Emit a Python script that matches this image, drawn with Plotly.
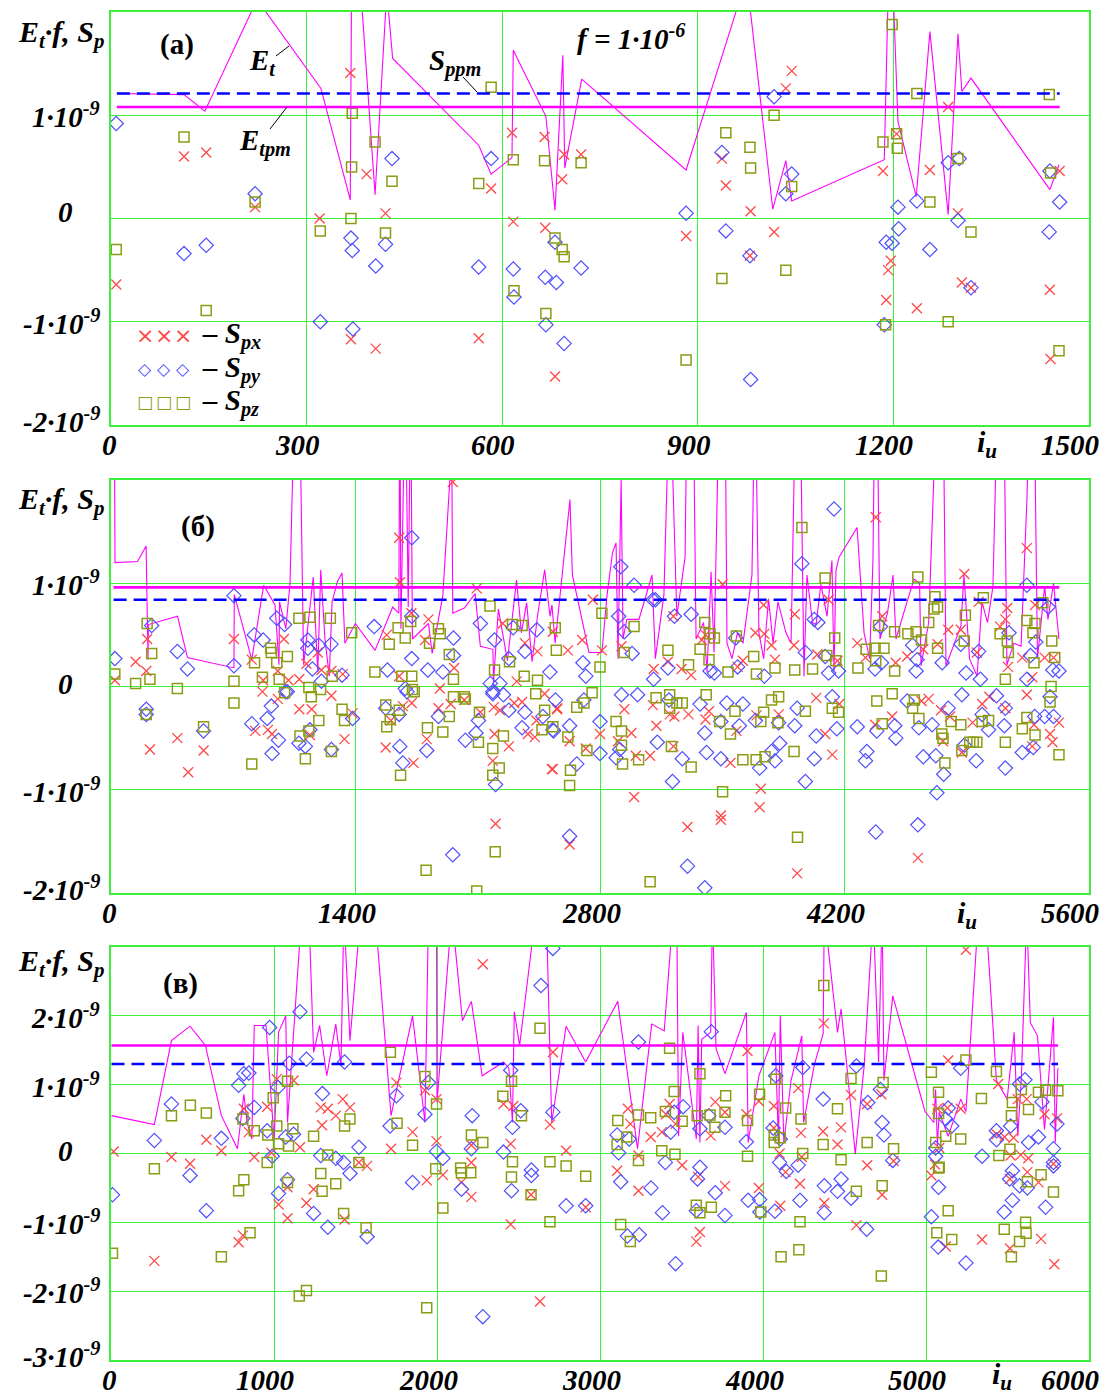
import numpy as np
import plotly.graph_objects as go

# ---------------- DATA (all S / E values in units of 1e-9) ----------------
SCALE = 1e-9

# ---- panel (а) ----
ET_A_I = [9, 112, 144, 224, 322, 367, 370, 405, 423, 432, 564, 583, 615, 617, 667, 681, 693, 696, 722, 882,
          975, 1015, 1035, 1044, 1186, 1195, 1207, 1235, 1256, 1284, 1299, 1305, 1319, 1440, 1454]
ET_A_V = [1.21, 1.20, 1.04, 2.12, 1.26, 0.18, 3.4, 0.23, 2.2, 1.55, 0.71, 0.43, 0.59, 1.63, 0.99, 0.08, 1.58, 0.49, 1.35, 0.47,
          2.33, 0.09, 0.56, 0.17, 0.57, 3.0, 0.94, 0.21, 1.81, 0.04, 1.79, 1.23, 1.36, 0.28, 0.52]

SPX_A_I = [8, 112, 146, 221, 320, 367, 368, 392, 406, 421, 564, 583, 615, 617, 665, 666, 681, 692, 695, 721, 882, 937, 943,
           980, 981, 1017, 1035, 1044, 1184, 1189, 1192, 1196, 1205, 1236, 1256, 1284, 1299, 1305, 1319, 1440, 1441, 1455]
SPX_A_V = [-0.64, 0.60, 0.64, 0.11, 0.0, 1.41, -1.17, 0.43, -1.26, 0.05, -1.16, 0.29, 0.83, -0.03, 0.79, -0.09, -1.53, 0.38,
           0.62, 0.62, -0.17, 0.58, 0.32, -0.36, 0.07, -0.13, 1.26, 1.43, 0.46, -0.79, -0.50, -0.41, 0.82, -0.87, 0.47, 1.08,
           0.05, -0.62, -0.67, -0.69, -1.36, 0.46]

SPY_A_I = [8, 112, 146, 221, 321, 368, 370, 371, 406, 421, 431, 564, 583, 617, 618, 666, 667, 681, 683, 695, 721, 882, 937,
           943, 980, 981, 1017, 1035, 1044, 1186, 1189, 1198, 1207, 1208, 1236, 1256, 1284, 1299, 1301, 1319, 1439, 1440, 1455]
SPY_A_V = [0.92, -0.34, -0.26, 0.24, -1.0, -0.19, -0.31, -1.07, -0.46, -0.25, 0.58, -0.47, 0.58, -0.49, -0.76, -0.57, -1.03,
           -0.23, -0.62, -1.21, -0.48, 0.05, 0.64, -0.12, -0.36, -1.56, 1.18, 0.24, 0.43, -1.03, -0.23, -0.24, 0.11, -0.10,
           0.17, -0.30, 0.54, -0.02, 0.58, -0.67, -0.13, 0.46, 0.16]

SPZ_A_I = [8, 112, 146, 221, 321, 368, 369, 370, 405, 421, 431, 564, 583, 617, 618, 665, 667, 681, 692, 695, 721, 882, 937,
           943, 980, 981, 1017, 1035, 1044, 1184, 1188, 1198, 1205, 1206, 1236, 1256, 1284, 1299, 1319, 1439, 1441, 1454]
SPZ_A_V = [-0.30, 0.79, -0.89, 0.16, -0.12, 0.0, 0.50, 1.02, 0.74, -0.14, 0.36, 0.34, 1.27, 0.57, -0.70, 0.56, -0.92, -0.19,
           -0.30, -0.37, 0.54, -1.37, -0.58, 0.83, 0.69, 0.49, 1.00, -0.50, 0.31, 0.74, -1.03, 1.88, 0.82, 0.68, 1.21, 0.16,
           -1.0, 0.58, -0.13, 1.20, 0.44, -1.28]

ETPM_A, SPPM_A, SPAN_A = 1.08, 1.21, [9, 1455]

# ---- panel (б) ----
ET_B = [(18, 3.0), (23, 1.20), (152, 1.21), (201, 1.36), (212, 0.26), (214, 0.60), (381, 0.68), (438, 0.28), (704, 0.18),
        (706, 0.89), (806, 0.26), (874, 0.98), (939, 0.79), (962, 0.21), (965, 0.82), (1001, 0.56), (1025, 1.0), (1054, 3.0),
        (1078, 3.0), (1103, 0.21), (1158, 1.06), (1184, 0.14), (1201, 1.13), (1225, 0.46), (1250, 0.10), (1266, 0.82),
        (1297, 1.02), (1323, 1.10), (1339, 0.42), (1399, 0.61), (1512, 0.35), (1613, 0.77), (1648, 0.71), (1654, 3.0),
        (1660, 0.56), (1685, 3.0), (1702, 0.77), (1716, 3.0), (1726, 0.46), (1818, 0.61), (1839, 0.32), (1900, 0.88),
        (1951, 2.3), (1957, 0.71), (2023, 0.76), (2085, 0.90), (2115, 0.39), (2187, 0.36), (2190, 0.04), (2218, 0.75),
        (2270, 0.25), (2322, 1.03), (2350, 0.52), (2380, 0.81), (2411, 0.24), (2442, 0.68), (2483, 1.13), (2514, 0.68),
        (2525, 0.79), (2543, 0.42), (2628, 1.81), (2642, 1.08), (2737, 0.33), (2811, 0.33), (2840, 0.88), (2872, 1.30),
        (2892, 1.39), (2903, 0.27), (2921, 2.0), (2932, 0.46), (2954, 0.65), (3023, 0.65), (3098, 1.08), (3117, 0.27),
        (3166, 0.89), (3200, 3.0), (3240, 0.68), (3287, 1.25), (3300, 3.0), (3333, 3.0), (3350, 0.46), (3393, 0.62),
        (3413, 0.14), (3436, 1.11), (3453, 0.33), (3485, 3.0), (3516, 3.0), (3527, 0.42), (3556, 0.27), (3587, 0.52),
        (3619, 0.42), (3670, 1.08), (3688, 3.0), (3710, 0.52), (3737, 0.27), (3765, 0.85), (3791, 0.42), (3819, 0.82),
        (3865, 0.52), (3894, 0.42), (3922, 3.0), (3945, 3.0), (3968, 0.10), (3985, 1.08), (4017, 0.62), (4037, 0.60),
        (4065, 0.99), (4100, 0.68), (4128, 1.22), (4140, 0.15), (4151, 1.12), (4168, 1.25), (4272, 1.54), (4312, 0.52),
        (4344, 0.27), (4363, 1.22), (4375, 3.0), (4386, 3.0), (4403, 0.46), (4446, 0.71), (4478, 1.08), (4495, 0.46),
        (4558, 0.82), (4598, 1.04), (4630, 1.0), (4638, 0.20), (4682, 0.62), (4732, 3.0), (4764, 3.0), (4781, 0.20),
        (4867, 0.59), (4884, 1.08), (4916, 0.27), (4959, 0.10), (4987, 0.82), (5019, 0.62), (5050, 0.97), (5079, 3.0),
        (5111, 3.0), (5130, 0.21), (5170, 0.42), (5211, 0.39), (5245, 1.83), (5262, 3.0), (5285, 3.0), (5305, 0.27),
        (5346, 0.97), (5365, 0.65), (5397, 1.0), (5417, 0.65), (5428, 0.46)]

SPX_B = [(207, 0.46), (141, 0.24), (202, 0.15), (22, 0.06), (704, 0.46), (806, 0.26), (990, 0.46), (871, 0.06), (955, 0.15),
         (1016, 0.06), (1078, 0.07), (1119, 0.22), (1184, 0.33), (1205, 0.16), (1262, 0.15), (1262, -0.09), (1327, 0.12),
         (1650, 1.44), (1654, 1.01), (1720, 0.71), (1579, 0.50), (1650, 0.10), (1818, 0.65), (1798, 0.45), (1883, -0.02),
         (1957, 1.98), (1965, 0.18), (2094, 0.95), (2243, 0.61), (2370, 0.42), (2442, 0.34), (2323, 0.05), (2530, 0.53),
         (867, -0.05), (955, -0.12), (1078, -0.22), (1149, -0.22), (380, -0.50), (223, -0.61), (530, -0.62), (442, -0.83),
         (826, -0.43), (898, -0.42), (922, -0.46), (1139, -0.47), (1337, -0.51), (1383, -0.26), (1603, -0.33),
         (1671, -0.19), (1722, -0.16), (1573, -0.59), (1732, -0.74), (1808, -0.51), (1875, -0.21), (1945, -0.17),
         (2023, -0.13), (2115, -0.25), (2196, -0.46), (2186, -0.72), (2202, -1.33), (2192, -0.20), (2227, -0.23),
         (2278, -0.58), (2309, -0.16), (2354, -0.15), (2387, -0.46), (2427, -0.49), (2436, -0.33), (2483, -0.07),
         (2530, -0.80), (2554, -0.22),
         (2759, 0.84), (2698, 0.45), (2616, 0.35), (2811, 0.35), (2923, 0.39), (3107, 0.17), (3189, 0.24), (3220, 0.68),
         (3267, 0.17), (3322, 0.11), (3383, 0.45), (3404, 0.50), (3502, 0.99), (3588, 0.19), (3618, 0.25), (3690, 0.52),
         (3737, 0.79), (3741, 0.51), (3782, 0.40), (3802, 0.26), (3915, 0.70), (3911, 0.40), (4044, 0.31), (4109, 0.84),
         (4160, 0.25), (4379, 1.64), (4273, 0.42), (4320, 0.28), (4416, 0.68), (4493, 0.23), (4559, 0.29), (4651, 0.36),
         (4733, 0.41), (4794, 0.55), (4866, 0.55), (4886, 1.09), (4958, 0.33), (4968, 0.82), (5091, 0.58), (5121, 0.65),
         (5132, 0.76), (5136, 0.19), (5244, 1.34), (5291, 0.79), (5218, 0.28), (5346, 0.28), (5397, 0.28), (5275, 0.09),
         (2555, -0.21), (2524, -0.80), (2719, -0.60), (2800, -0.46), (2626, -0.53), (2626, -1.53), (2903, -0.53),
         (2939, -0.22), (2980, -0.45), (3005, -0.67), (2995, -1.07), (3087, -0.67), (3123, -0.38), (3103, -0.18),
         (3199, -0.27), (3226, -0.29), (3307, -0.27), (3301, -1.36), (3220, -0.58), (3404, -0.32), (3424, -0.24),
         (3492, -1.25), (3492, -1.29), (3547, -0.74), (3581, -0.43), (3696, -0.28), (3721, -0.99), (3714, -1.17),
         (3823, -0.27), (3929, -1.81), (4038, -0.11), (4089, -0.46), (4130, -0.66), (4170, -0.17), (4375, -0.37),
         (4473, -0.29), (4620, -1.66), (4641, -0.14), (4682, -0.12), (4753, -0.23), (4764, -0.53), (4804, -0.29),
         (4872, -0.64), (4933, -0.35), (4988, -0.17), (5029, -0.10), (5121, -0.21), (5244, -0.08), (5285, -0.37),
         (5377, -0.46), (5391, -0.54), (5428, -0.35), (5275, -0.58)]

SPY_B = [(22, 0.27), (233, 0.59), (380, 0.34), (438, 0.17), (704, 0.88), (704, 0.20), (820, 0.50), (871, 0.45), (949, 0.66),
         (994, 0.60), (1127, 0.45), (1127, 0.37), (1190, 0.40), (1260, 0.41), (1153, 0.17), (1205, 0.05), (1323, 0.11),
         (1010, -0.05), (1507, 0.58), (1583, 0.16), (1722, 1.44), (1722, 0.68), (1722, 0.27), (1814, 0.16), (1900, 0.14),
         (1961, 0.47), (1961, 0.30), (2115, 0.61), (2196, 0.45), (2278, 0.27), (2303, 0.57), (2370, 0.34), (2438, 0.55),
         (2513, 0.14), (2172, 0.03), (2227, 0.03), (2186, -0.05), (1685, -0.02),
         (202, -0.22), (202, -0.27), (530, -0.43), (806, -0.36), (894, -0.31), (918, -0.19), (959, -0.52), (922, -0.65),
         (1076, -0.55), (1113, -0.58), (1139, -0.42), (1262, -0.61), (1383, -0.31), (1000, -0.05), (1573, -0.21),
         (1650, -0.27), (1654, -0.58), (1671, -0.74), (1695, -0.05), (1808, -0.62), (1875, -0.29), (1957, -1.63),
         (2029, -0.52), (2104, -0.33), (2090, -0.45), (2202, -0.95), (2186, -0.07), (2247, -0.08), (2278, -0.23),
         (2354, -0.40), (2370, -0.25), (2534, -0.43), (2473, -0.29),
         (2919, 1.16), (2995, 0.98), (2907, 0.68), (2939, 0.53), (2984, 0.32), (2702, 0.23), (2719, 0.10), (3103, 0.84),
         (3117, 0.84), (3226, 0.68), (3322, 0.70), (3189, 0.18), (3107, 0.07), (3430, 0.15), (3455, 0.13), (3577, 0.47),
         (3588, 0.19), (3956, 1.19), (4140, 1.72), (4027, 0.65), (4048, 0.62), (3976, 0.33), (4089, 0.29), (4109, 0.13),
         (4166, 0.15), (3741, 0.10), (4406, 0.58), (4375, 0.17), (4412, 0.23), (4590, 0.40), (4616, 0.26), (4610, 0.15),
         (4759, 0.23), (4866, 0.41), (4896, 0.13), (4968, 0.34), (4978, 0.07), (5142, 0.52), (5244, 0.98), (5295, 0.43),
         (5265, 0.30), (5244, 0.07), (5367, 0.77), (5393, 0.16), (5428, 0.15),
         (2545, -0.13), (2626, -0.38), (2530, -0.42), (2667, -0.75), (2626, -1.45), (2800, -0.34), (2800, -0.65),
         (2708, -0.13), (2892, -0.69), (2913, -0.61), (2923, -0.08), (3015, -0.08), (3128, -0.54), (3215, -0.92),
         (3195, -0.13), (3271, -0.70), (3301, -1.74), (3373, -0.17), (3400, -0.45), (3410, -0.64), (3400, -1.95),
         (3492, -0.70), (3492, -0.34), (3526, -0.16), (3618, -0.17), (3598, -0.38), (3690, -0.33), (3714, -0.79),
         (3782, -0.63), (3802, -0.72), (3829, -0.55), (3823, -0.35), (3915, -0.38), (3929, -0.21), (3976, -0.92),
         (4027, -0.70), (4038, -0.48), (4130, -0.10), (4156, -0.41), (4273, -0.39), (4328, -0.63), (4320, -0.72),
         (4379, -1.41), (4385, -0.43), (4494, -0.50), (4488, -0.38), (4559, -0.14), (4626, -0.40), (4620, -1.34),
         (4651, -0.68), (4702, -0.37), (4729, -1.03), (4768, -0.85), (4723, -0.67), (4794, -0.21), (4872, -0.08),
         (4886, -0.57), (4954, -0.72), (4988, -0.27), (5025, -0.42), (5070, -0.09), (5121, -0.79), (5115, -0.38),
         (5121, -0.21), (5218, -0.64), (5281, -0.59), (5289, -0.29), (5346, -0.29), (5397, -0.29), (5377, -0.10)]

SPZ_B = [(22, 0.12), (207, 0.61), (233, 0.32), (141, 0.03), (223, 0.07), (380, -0.02), (704, 0.05), (822, 0.23), (867, 0.09),
         (914, 0.37), (918, 0.33), (963, 0.07), (1010, 0.29), (949, 0.23), (1076, 0.66), (1139, 0.67), (1256, 0.66),
         (1378, 0.52), (1133, -0.01), (1200, -0.03), (1266, 0.10), (1511, 0.14), (1685, 0.47), (1644, 0.57), (1593, 0.41),
         (1665, 0.10), (1722, 0.10), (1726, -0.03), (1716, 0.63), (1875, 0.56), (1885, 0.51), (1824, 0.42), (1937, 0.31),
         (1961, 0.07), (2170, 0.78), (2299, 0.60), (2354, 0.59), (2196, 0.16), (2282, 0.24), (2366, 0.10), (2442, 0.06),
         (2544, 0.57), (2550, 0.35), (1961, -0.10), (2023, -0.10),
         (202, -0.27), (530, -0.39), (704, -0.16), (806, -0.75), (994, -0.06), (1147, -0.10), (1190, -0.33), (1082, -0.48),
         (1133, -0.43), (1113, -0.70), (1262, -0.63), (1323, -0.22), (1337, -0.33), (1573, -0.18), (1579, -0.39),
         (1599, -0.32), (1650, -0.23), (1658, -0.86), (1736, -0.05), (1812, -0.40), (1900, -0.44), (1804, -1.78),
         (1937, -0.29), (2029, -0.12), (2094, -1.98), (2104, -0.54), (2110, -0.25), (2186, -0.60), (2223, -0.79),
         (2186, -0.86), (2200, -1.60), (2247, -0.48), (2432, -0.07), (2468, -0.42), (2483, -0.23), (2530, -0.39),
         (3956, 1.54), (4089, 1.05), (4620, 1.06), (2811, 0.71), (2995, 0.58), (2800, 0.19), (2939, 0.33), (3189, 0.35),
         (3307, 0.21), (3400, 0.62), (3430, 0.51), (3455, 0.47), (3373, 0.36), (3424, 0.26), (3581, 0.49), (3533, 0.14),
         (3680, 0.29), (3696, 0.12), (3802, 0.18), (3915, 0.16), (4017, 0.17), (4144, 0.47), (4099, 0.30), (4150, 0.25),
         (4277, 0.18), (4324, 0.36), (4375, 0.37), (4426, 0.37), (4379, 0.25), (4395, 0.59), (4487, 0.53), (4563, 0.51),
         (4610, 0.53), (4641, 0.45), (4718, 0.87), (4712, 0.75), (4733, 0.77), (4682, 0.62), (4733, 0.37), (4892, 0.69),
         (4886, 0.44), (4995, 0.86), (5091, 0.51), (5132, 0.44), (5138, 0.33), (5244, 0.64), (5291, 0.61), (5279, 0.52),
         (5387, 0.44), (5336, 0.81), (5404, 0.28), (5285, 0.23), (5121, 0.07), (5383, 0.00), (4487, 0.15),
         (2667, -0.20), (2708, -0.16), (2755, -0.06), (2616, -0.49), (2631, -0.81), (2626, -0.96), (2725, -0.62),
         (2892, -0.34), (2923, -0.43), (2923, -0.57), (2929, -0.75), (3021, -0.71), (3087, -1.89), (3121, -0.11),
         (3199, -0.08), (3199, -0.21), (3209, -0.58), (3240, -0.16), (3271, -0.16), (3322, -0.78), (3408, -0.08),
         (3485, -0.34), (3502, -1.02), (3547, -0.46), (3573, -0.24), (3618, -0.71), (3694, -0.71), (3737, -0.25),
         (3745, -0.68), (3721, -0.34), (3782, -0.13), (3823, -0.10), (3819, -0.35), (3911, -0.63), (3931, -1.46),
         (3976, -0.24), (4130, -0.21), (4166, -0.25), (4385, -0.14), (4416, -0.36), (4473, -0.07), (4600, -0.13),
         (4590, -0.21), (4626, -0.31), (4757, -0.46), (4764, -0.50), (4775, -0.74), (4811, -0.34), (4866, -0.37),
         (4872, -0.62), (4917, -0.54), (4937, -0.54), (4958, -0.54), (4988, -0.34), (5025, -0.33), (5121, -0.54),
         (5218, -0.41), (5244, -0.30), (5291, -0.47), (5377, -0.15), (5428, -0.66)]

ETPM_B, SPPM_B, SPAN_B = 0.96, 0.84, [15, 5430]

# ---- panel (в) ----
ET_C = [(3, 0.55), (266, 0.42), (371, 1.64), (485, 1.85), (579, 1.57), (677, 0.55), (776, 0.07), (815, 0.86), (835, 0.45),
        (864, 0.21), (879, 1.86), (951, 1.86), (1001, 0.19), (1028, 1.76), (1072, 2.0), (1083, 0.45), (1170, 3.5),
        (1214, 3.5), (1243, 1.47), (1280, 1.86), (1324, 1.13), (1379, 1.88), (1411, 1.28), (1429, 3.5), (1466, 1.64),
        (1532, 3.5), (1620, 3.5), (1718, 0.55), (1850, 2.0), (1926, 0.45), (1948, 3.5), (1997, 3.5), (2000, 0.74),
        (2091, 3.5), (2156, 1.93), (2211, 2.21), (2277, 1.13), (2408, 1.33), (2441, 1.24), (2463, 0.45), (2474, 2.06),
        (2507, 1.57), (2606, 3.5), (2671, 3.5), (2704, 0.45), (2792, 1.85), (2912, 1.33), (3109, 2.21), (3230, 0.07),
        (3317, 1.88), (3394, 1.78), (3449, 3.5), (3471, 3.5), (3482, 0.25), (3508, 1.76), (3591, 0.21), (3602, 1.86),
        (3613, 0.16), (3624, 1.66), (3679, 1.76), (3690, 3.5), (3712, 1.52), (3767, 1.16), (3898, 2.05), (3909, 0.16),
        (3975, 1.13), (4073, 1.76), (4095, 0.16), (4106, 2.0), (4128, 0.16), (4172, 1.06), (4238, 1.71), (4249, 0.45),
        (4314, 1.28), (4369, 1.74), (4376, 3.5), (4457, 1.76), (4479, 2.1), (4512, 1.33), (4566, -0.01), (4621, 1.28),
        (4676, 3.5), (4709, 1.33), (4731, 3.5), (4742, 1.06), (4796, 2.29), (4994, 0.61), (5048, 0.45), (5059, 0.93),
        (5070, 0.11), (5081, 0.60), (5136, 0.25), (5213, 0.79), (5245, 0.61), (5322, 3.5), (5366, 3.5), (5432, 1.06),
        (5498, 0.79), (5541, 1.76), (5563, 0.25), (5585, 1.09), (5618, 3.5), (5640, 1.90), (5684, 1.71), (5727, 0.35),
        (5782, 1.98), (5793, 0.16), (5809, 1.24)]

SPX_C = [(16, 0.03), (371, -0.05), (485, -0.15), (585, 0.20), (677, 0.04), (815, 0.65), (846, 0.31), (879, -0.05), (958, 0.68),
         (984, 0.01), (1017, 1.08), (1120, 1.06), (1159, 0.09), (1287, 0.67), (1330, 0.65), (1379, 0.55), (1422, 0.79),
         (1466, 0.67), (1295, 0.41), (1521, -0.13), (1571, -0.18), (1718, 0.07), (1751, 1.03), (1850, 0.31), (1926, 0.92),
         (1997, 0.79), (1997, 0.18), (2211, 0.12), (2211, -0.13), (2452, 0.14), (2408, 0.72), (2468, 0.69), (2693, 0.42),
         (2711, 1.47), (2281, 2.75),
         (2792, 0.04), (3171, 0.65), (3186, 0.43), (3236, -0.03), (3311, 0.24), (3379, 0.31), (3405, 0.57), (3427, 0.72),
         (3464, 0.43), (3504, -0.17), (3679, 0.26), (3707, 0.75), (3767, 0.60), (3905, 1.49), (3898, 0.57), (3975, 0.76),
         (4067, 0.69), (4067, 0.37), (4102, 0.0), (4216, 0.95), (4233, 0.30), (4238, -0.05), (4373, 1.89), (4369, 0.32),
         (4479, 0.38), (4457, 0.13), (4540, 0.85), (4639, 0.72), (4639, -0.17), (4726, 0.86), (4801, -0.11), (5136, 1.35),
         (5070, 0.65), (5132, 0.66), (5213, 0.65), (5081, 0.08), (5055, -0.16), (5245, 2.96), (5443, 1.01), (5563, 0.79),
         (5618, 0.79), (5727, 0.57), (5804, 0.51), (5482, 0.24), (5537, 0.23), (5519, -0.03), (5581, -0.02), (5628, -0.07),
         (5432, 0.28), (5782, -0.15),
         (266, -1.56), (783, -1.29), (809, -1.19), (1028, -0.74), (1083, -0.49), (1083, -0.94), (1199, -0.72), (1243, -0.52),
         (1433, -0.96), (1937, -0.39), (2036, -0.31), (2150, -0.42), (2211, -0.63), (2452, -1.03), (2577, -0.60),
         (2632, -2.15),
         (2912, -0.78), (3105, -0.25), (3236, -0.54), (3602, -0.34), (3591, -1.28), (3613, -1.14), (3767, -0.47),
         (3975, -0.50), (4106, -0.76), (4139, -0.27), (4227, -0.44), (4376, -0.72), (4573, -1.04), (4731, -0.60),
         (5033, -0.32), (5121, -1.35), (5344, -1.25), (5515, -0.37), (5515, -1.38), (5622, -0.27), (5690, -0.42),
         (5706, -1.24), (5787, -1.61)]

SPY_C = [(266, 0.19), (371, 0.72), (677, 0.22), (783, 0.99), (815, 1.16), (846, 1.17), (879, 0.67), (809, 0.51), (958, 0.33),
         (973, 1.83), (1024, 0.96), (989, -0.04), (1072, 0.24), (1094, 1.31), (1120, 0.28), (1159, 2.06), (1199, 1.37),
         (1297, 0.87), (1287, -0.03), (1433, 1.33), (1379, -0.07), (1427, -0.13), (1521, 0.09), (1712, 0.40), (1751, 0.84),
         (1926, 0.57), (1948, 1.03), (1997, 0.03), (2036, -0.07), (2216, 0.55), (2211, 0.07), (2408, 0.02), (2452, 1.21),
         (2463, 0.38), (2514, 0.62), (2638, 2.44), (2711, 0.60), (2579, -0.24), (2711, 2.98),
         (3236, 1.62), (3683, 1.77), (3510, 0.68), (3455, 0.60), (3434, 0.31), (3613, 0.36), (3767, 0.38), (3668, 0.55),
         (3898, 0.17), (4078, 1.13), (4062, 0.37), (4106, 0.21), (4244, 1.25), (4369, 0.79), (4573, 1.27), (4643, 0.74),
         (4731, 0.45), (4742, 0.27), (4720, 0.93), (3105, 0.27), (3114, 0.01), (3179, 0.21), (3401, -0.13), (3613, -0.20),
         (4102, -0.13), (4216, -0.17), (4796, -0.10), (5136, 0.66), (5121, 0.50), (5158, 0.40), (5213, 1.24), (5059, 0.08),
         (5059, -0.04), (5344, -0.04), (5432, 0.33), (5432, 0.20), (5519, 0.40), (5607, 1.07), (5574, 1.01), (5629, 0.16),
         (5690, 0.24), (5712, 0.75), (5804, 0.43), (5782, 0.07), (5782, -0.13), (5530, -0.25),
         (9, -0.60), (485, -0.32), (585, -0.83), (1028, -0.58), (1083, -0.38), (1243, -0.87), (1330, -1.07), (1466, -0.29),
         (1571, -1.21), (1850, -0.42), (2150, -0.52), (2281, -2.37), (2457, -0.54), (2579, -0.32),
         (2792, -0.76), (2912, -0.76), (3127, -0.41), (3168, -1.20), (3241, -1.18), (3313, -0.50), (3383, -0.86),
         (3464, -1.60), (3591, -0.83), (3598, -0.37), (3707, -0.57), (3767, -0.90), (3909, -0.68), (3979, -0.67),
         (3981, -0.85), (4073, -0.84), (4143, -0.26), (4227, -0.68), (4376, -0.47), (4376, -0.86), (4457, -0.55),
         (4479, -0.37), (4540, -0.65), (4636, -1.10), (5033, -0.92), (5077, -0.49), (5075, -1.36), (5245, -1.59),
         (5480, -0.85), (5530, -0.68), (5513, -0.37), (5574, -0.47), (5622, -0.50), (5734, -0.78), (5782, -0.18)]

SPZ_C = [(266, -0.22), (371, 0.55), (487, 0.70), (585, 0.59), (809, 0.50), (879, 0.33), (962, 0.27), (995, 0.81), (958, -0.13),
         (1017, 0.40), (1083, 1.05), (1028, 0.14), (1089, 0.11), (1116, 0.36), (1243, 0.25), (1330, -0.02), (1433, 0.40),
         (1466, 0.50), (1521, -0.13), (1714, 1.47), (1755, 0.44), (1850, 0.12), (1926, 1.12), (1997, 0.72), (1992, -0.22),
         (2211, 0.27), (2281, 0.16), (2145, -0.21), (2404, 0.83), (2457, 1.05), (2518, 0.55), (2463, -0.12), (2632, 1.82),
         (2693, -0.12),
         (3427, 1.53), (3455, 0.90), (3613, 1.16), (3771, 0.84), (3767, 0.60), (3705, 0.38), (3675, 0.56), (3596, 0.55),
         (3504, 0.47), (3401, 0.61), (3311, 0.52), (3236, 0.56), (3109, 0.48), (3164, 0.24), (3105, 0.13), (3236, -0.10),
         (3379, 0.04), (3460, -0.01), (3905, 0.48), (3905, -0.04), (3979, 0.86), (4078, 1.08), (4139, 0.66), (4069, 0.27),
         (4069, 0.16), (4106, 0.23), (4233, 0.50), (4244, 0.0), (4373, 2.44), (4457, 0.65), (4540, 1.09), (4369, 0.13),
         (4479, -0.09), (4639, 0.16), (4737, 1.03), (4801, 0.07), (5033, 1.18), (5077, 0.89), (5077, 0.58), (5121, 0.25),
         (5213, 0.21), (5059, 0.16), (5081, -0.20), (5245, 1.36), (5340, 0.80), (5432, 1.19), (5447, -0.03), (5530, 0.74),
         (5524, 0.55), (5629, 0.64), (5585, 0.93), (5690, 0.89), (5734, 0.92), (5809, 0.91), (5515, 0.06),
         (9, -1.45), (677, -1.50), (783, -0.54), (815, -0.38), (853, -1.15), (1083, -0.42), (1155, -2.07), (1199, -1.99),
         (1287, -0.29), (1295, -0.55), (1379, -0.44), (1427, -0.87), (1565, -1.08), (1937, -2.24), (2036, -0.79),
         (2150, -0.28), (2207, -0.28), (2457, -0.34), (2577, -0.60), (2693, -0.99),
         (2792, -0.18), (2912, -0.33), (3127, -1.03), (3186, -1.28), (3591, -0.75), (3613, -0.86), (3683, -0.78),
         (3986, -0.85), (4227, -0.99), (4111, -1.50), (4220, -1.40), (4573, -0.55), (4731, -0.47), (4726, -1.78),
         (5077, -0.21), (5136, -0.83), (5066, -1.15), (5158, -1.25), (5480, -1.10), (5611, -1.00), (5614, -1.16),
         (5574, -1.28), (5524, -1.50), (5622, -0.41), (5706, -0.31), (5782, -0.56)]

ETPM_C, SPPM_C, SPAN_C = 1.57, 1.30, [3, 5810]

# tick values
XT_A = [0, 300, 600, 900, 1200, 1500]
XT_B = [0, 1400, 2800, 4200, 5600]
XT_C = [0, 1000, 2000, 3000, 4000, 5000, 6000]
YT_A = [-2, -1, 0, 1]
YT_B = [-2, -1, 0, 1]
YT_C = [-3, -2, -1, 0, 1, 2]

# ---------------- STYLE / LAYOUT ----------------
PAGE_W, PAGE_H = 1110, 1398
OFF = 8                      # default body margin of the html page
W, H = PAGE_W - 2 * OFF, PAGE_H - OFF
GREEN = "#3cf03c"
RED = "#ff4848"
BLUE = "#4f4fff"
OLIVE = "#8c9c14"
MAG = "#ff00ff"
SERIF = "Liberation Serif"


def px(x):
    return (x - OFF) / W


def py(y):
    return 1 - (y - OFF) / H


def unzip(pairs):
    return [p[0] for p in pairs], [p[1] for p in pairs]


panels = [
    dict(k="", top=12, bot=425, xr=1500, dx=300, yr=2, xt=XT_A, yt=YT_A,
         et=(ET_A_I, ET_A_V), spx=(SPX_A_I, SPX_A_V), spy=(SPY_A_I, SPY_A_V), spz=(SPZ_A_I, SPZ_A_V),
         etpm=ETPM_A, sppm=SPPM_A, span=SPAN_A, title_y=34, letter="(а)", letter_xy=(177, 45), iu=(987, 444)),
    dict(k="2", top=480, bot=893, xr=5600, dx=1400, yr=2, xt=XT_B, yt=YT_B,
         et=unzip(ET_B), spx=unzip(SPX_B), spy=unzip(SPY_B), spz=unzip(SPZ_B),
         etpm=ETPM_B, sppm=SPPM_B, span=SPAN_B, title_y=501, letter="(б)", letter_xy=(198, 526), iu=(967, 915)),
    dict(k="3", top=947, bot=1360, xr=6000, dx=1000, yr=3, xt=XT_C, yt=YT_C,
         et=unzip(ET_C), spx=unzip(SPX_C), spy=unzip(SPY_C), spz=unzip(SPZ_C),
         etpm=ETPM_C, sppm=SPPM_C, span=SPAN_C, title_y=963, letter="(в)", letter_xy=(180, 983), iu=(1002, 1376)),
]

fig = go.Figure()
annotations = []
shapes = []
layout_axes = {}


def bfont(size, italic=True, family=SERIF, color="black", bold=True):
    d = dict(family=family, size=size, color=color)
    if bold:
        d["weight"] = "bold"
    if italic:
        d["style"] = "italic"
    return d


def ann(x, y, text, size, xref="paper", yref="paper", xanchor="center", yanchor="middle",
        italic=True, family=SERIF, color="black", bold=True, xshift=0, yshift=0):
    annotations.append(dict(x=x, y=y, xref=xref, yref=yref, text=text, showarrow=False,
                            xanchor=xanchor, yanchor=yanchor, xshift=xshift, yshift=yshift,
                            font=bfont(size, italic, family, color, bold)))


for p in panels:
    k = p["k"]
    xa, ya = "x" + k, "y" + k
    ax_common = dict(showgrid=True, gridcolor=GREEN, gridwidth=1.3, zeroline=False,
                     showline=True, linecolor=GREEN, linewidth=1.5, mirror=True,
                     ticks="", showticklabels=False, fixedrange=True)
    layout_axes["xaxis" + k] = dict(ax_common, domain=[px(111), px(1089)], anchor=ya,
                                    range=[0, p["xr"]], tick0=0, dtick=p["dx"])
    layout_axes["yaxis" + k] = dict(ax_common, domain=[py(p["bot"]), py(p["top"])], anchor=xa,
                                    range=[-p["yr"] * SCALE, p["yr"] * SCALE], tick0=0, dtick=SCALE)

    # thin E_t line
    fig.add_trace(go.Scatter(x=p["et"][0], y=np.array(p["et"][1]) * SCALE, mode="lines",
                             line=dict(color=MAG, width=1.1), xaxis=xa, yaxis=ya, hoverinfo="skip"))
    # markers
    fig.add_trace(go.Scatter(x=p["spx"][0], y=np.array(p["spx"][1]) * SCALE, mode="markers",
                             marker=dict(symbol="x-thin", size=10, line=dict(color=RED, width=1.3)),
                             xaxis=xa, yaxis=ya))
    fig.add_trace(go.Scatter(x=p["spy"][0], y=np.array(p["spy"][1]) * SCALE, mode="markers",
                             marker=dict(symbol="diamond-open", size=11, color=BLUE, line=dict(width=1.2)),
                             xaxis=xa, yaxis=ya))
    fig.add_trace(go.Scatter(x=p["spz"][0], y=np.array(p["spz"][1]) * SCALE, mode="markers",
                             marker=dict(symbol="square-open", size=10, color=OLIVE, line=dict(width=1.5)),
                             xaxis=xa, yaxis=ya))
    # mean lines
    fig.add_trace(go.Scatter(x=p["span"], y=[p["etpm"] * SCALE] * 2, mode="lines",
                             line=dict(color=MAG, width=2.6), xaxis=xa, yaxis=ya))
    fig.add_trace(go.Scatter(x=p["span"], y=[p["sppm"] * SCALE] * 2, mode="lines",
                             line=dict(color="#0000ff", width=2.6, dash="13px,7px"), xaxis=xa, yaxis=ya))

    # x tick labels
    n = len(p["xt"])
    for j, t in enumerate(p["xt"]):
        sh = -2 if j == 0 else (-19 if j == n - 1 else -9)
        ann(t, py(p["bot"] + 20), str(t), 29, xref=xa, xshift=sh)
    # y tick labels
    for t in p["yt"]:
        if t == 0:
            ann(px(65), t * SCALE, "0", 29, yref=ya, yshift=7 if k == "" else 3)
        else:
            ann(px(102), t * SCALE, f"{t}·10<sup>-9</sup>", 29, yref=ya, xanchor="right",
                yshift=5 if t == -p["yr"] else 0)
    # axis title & x label
    ann(px(61), py(p["title_y"]), "E<sub>t</sub>·f, S<sub>p</sub>", 30)
    ann(px(p["iu"][0]), py(p["iu"][1]), "i<sub>и</sub>", 30)
    # panel letter
    ann(px(p["letter_xy"][0]), py(p["letter_xy"][1]), p["letter"], 29, italic=False)

# ---- extra labels of panel (а) ----
ann(px(262), py(62), "E<sub>t</sub>", 29)
ann(px(265), py(142), "E<sub>tpm</sub>", 29)
ann(px(455), py(62), "S<sub>ppm</sub>", 29)
ann(px(631), py(37), "f = 1·10<sup>-6</sup>", 29)
for (x0, y0, x1, y1) in [(276, 56, 289, 46), (270, 129, 287, 107), (463, 77, 477, 92)]:
    shapes.append(dict(type="line", xref="paper", yref="paper", x0=px(x0), y0=py(y0), x1=px(x1), y1=py(y1),
                       line=dict(color="black", width=1)))

# legend of panel (а)
shapes.append(dict(type="rect", xref="paper", yref="paper", x0=px(127), x1=px(283), y0=py(421), y1=py(316),
                   fillcolor="white", line=dict(width=0), layer="between"))
legend_rows = [("×", RED, 22, "S<sub>px</sub>", 336), ("◇", BLUE, 17, "S<sub>py</sub>", 369),
               ("□", OLIVE, 17, "S<sub>pz</sub>", 402)]
for sym, col, fs, lab, yy in legend_rows:
    for xx in (145, 164, 183):
        ann(px(xx), py(yy), sym, fs, family="DejaVu Sans", color=col, italic=False, bold=False)
    ann(px(200), py(yy), "– " + lab, 29, xanchor="left")

fig.update_layout(width=W, height=H, margin=dict(l=0, r=0, t=0, b=0), paper_bgcolor="white",
                  plot_bgcolor="white", showlegend=False, annotations=annotations, shapes=shapes,
                  **layout_axes)

fig.write_html("out.html")
